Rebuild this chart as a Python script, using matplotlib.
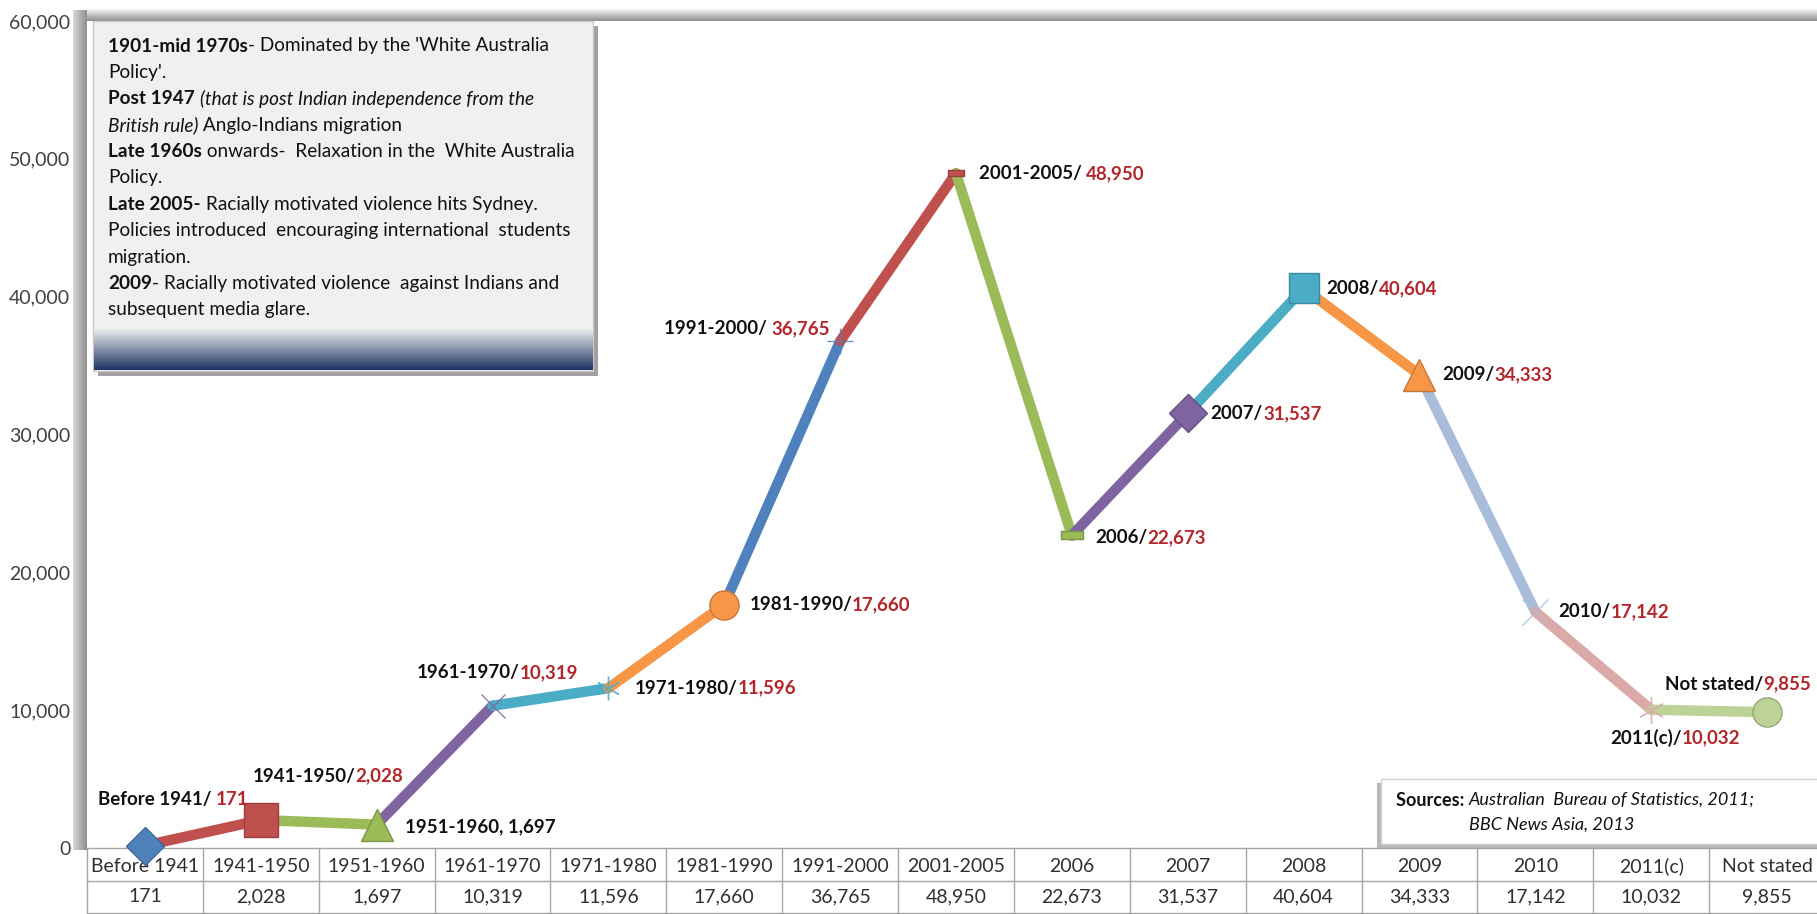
import matplotlib
matplotlib.use('Agg')
import matplotlib.pyplot as plt
import numpy as np
from matplotlib.patches import Rectangle
from matplotlib.path import Path
import matplotlib.transforms as mtransforms

# ---------------- data ----------------
categories = ['Before 1941', '1941-1950', '1951-1960', '1961-1970', '1971-1980',
              '1981-1990', '1991-2000', '2001-2005', '2006', '2007', '2008',
              '2009', '2010', '2011(c)', 'Not stated']
values = [171, 2028, 1697, 10319, 11596, 17660, 36765, 48950, 22673, 31537,
          40604, 34333, 17142, 10032, 9855]
value_labels = ['171', '2,028', '1,697', '10,319', '11,596', '17,660', '36,765',
                '48,950', '22,673', '31,537', '40,604', '34,333', '17,142',
                '10,032', '9,855']
label_black = ['Before 1941/ ', '1941-1950/', '1951-1960, 1,697', '1961-1970/',
               '1971-1980/', '1981-1990/', '1991-2000/ ', '2001-2005/ ', '2006/',
               '2007/', '2008/', '2009/', '2010/', '2011(c)/', 'Not stated/']
label_red = ['171', '2,028', '', '10,319', '11,596', '17,660', '36,765', '48,950',
             '22,673', '31,537', '40,604', '34,333', '17,142', '10,032', '9,855']
yticks = [0, 10000, 20000, 30000, 40000, 50000, 60000]
ytick_labels = ['0', '10,000', '20,000', '30,000', '40,000', '50,000', '60,000']

point_colors = ['#4F81BD', '#C0504D', '#9BBB59', '#8064A2', '#4BACC6', '#F79646',
                '#4F81BD', '#C0504D', '#9BBB59', '#8064A2', '#4BACC6', '#F79646',
                '#A9BCDA', '#DBA9A8', '#BDD296']

note_lines = [
    [('1901-mid 1970s', 'b'), ("- Dominated by the 'White Australia", '')],
    [("Policy'.", '')],
    [('Post 1947', 'b'), (' ', ''), ('(that is post Indian independence from the', 'i')],
    [('British rule)', 'i'), (' Anglo-Indians migration', '')],
    [('Late 1960s', 'b'), (' onwards-  Relaxation in the  White Australia', '')],
    [('Policy.', '')],
    [('Late 2005-', 'b'), (' Racially motivated violence hits Sydney.', '')],
    [('Policies introduced  encouraging international  students', '')],
    [('migration.', '')],
    [('2009', 'b'), ('- Racially motivated violence  against Indians and', '')],
    [('subsequent media glare.', '')],
]

# ---------------- layout ----------------
W, H = 1817, 914
FONT = ['Lato', 'DejaVu Sans']
NARROW = ['Liberation Sans Narrow', 'Lato', 'DejaVu Sans']
RED = '#B3262B'

fig = plt.figure(figsize=(W / 100, H / 100), dpi=100)
fig.patch.set_facecolor('white')
renderer = fig.canvas.get_renderer()


def fx(x):
    return x / W


def fy(y):
    return 1 - y / H


def gradient_axes(x0, y0, x1, y1, c0, c1, vertical=True, z=0):
    a = fig.add_axes([fx(x0), fy(y1), (x1 - x0) / W, (y1 - y0) / H], zorder=z)
    c0 = np.array(matplotlib.colors.to_rgb(c0))
    c1 = np.array(matplotlib.colors.to_rgb(c1))
    t = np.linspace(0, 1, 64)
    g = c0[None, :] * (1 - t[:, None]) + c1[None, :] * t[:, None]
    if vertical:
        img = g[:, None, :]
    else:
        img = g[None, :, :]
    a.imshow(img, aspect='auto', interpolation='bilinear')
    a.axis('off')
    return a


# plot-area shadow bands
gradient_axes(87, 8, W, 21, '#FFFFFF', '#8E8E8E', vertical=True, z=0)
gradient_axes(73, 10, 87, 850, '#D8D8D8', '#8E8E8E', vertical=False, z=0)

ax = fig.add_axes([fx(87), fy(848), (1825 - 87) / W, (848 - 21) / H], zorder=2)
ax.set_facecolor('none')
ax.set_xlim(-0.5, len(categories) - 0.5)
ax.set_ylim(0, 60000)
for s in ax.spines.values():
    s.set_visible(False)
ax.set_xticks([])
ax.set_yticks(yticks)
ax.set_yticklabels(ytick_labels, fontsize=14, color='#404040', family=FONT)
ax.tick_params(axis='y', length=0, pad=12)

x = np.arange(len(categories))

# coloured segments
for i in range(1, len(values)):
    ax.plot([x[i - 1], x[i]], [values[i - 1], values[i]], color=point_colors[i],
            lw=7.5, solid_capstyle='round', zorder=3)

dash_short = Path([(-1, -0.35), (1, -0.35), (1, 0.35), (-1, 0.35), (-1, -0.35)],
                  [1, 2, 2, 2, 79])
asterisk = (6, 2, 0)
markers = ['D', 's', '^', 'x', asterisk, 'o', '+', dash_short, dash_short,
           'D', 's', '^', 'x', asterisk, 'o']
msizes = [19, 24, 23, 17, 17, 21, 19, 11, 16, 19, 22, 23, 19, 19, 21]
for i in range(len(values)):
    m = markers[i]
    c = point_colors[i]
    thin = m in ('x', '+', asterisk)
    ec = '#A0A0A0' if thin else matplotlib.colors.to_hex(np.array(matplotlib.colors.to_rgb(c)) * 0.8)
    ax.plot(x[i], values[i], marker=m, ms=msizes[i], color=c,
            markeredgecolor=ec if not thin else c, markeredgewidth=1.0,
            linestyle='none', zorder=4, clip_on=False, alpha=0.85 if thin else 1.0)

# ---------------- data table under the axis ----------------
trans = mtransforms.blended_transform_factory(ax.transData, ax.transAxes)
ah = 848 - 21


def ay(ypx):
    return (848 - ypx) / ah


line_kw = dict(color='#A6A6A6', lw=1.0, transform=trans, clip_on=False, zorder=1)
ax.plot([-0.5, len(categories) - 0.5], [ay(848), ay(848)], **line_kw)
ax.plot([-0.5, len(categories) - 0.5], [ay(881), ay(881)], **line_kw)
ax.plot([-0.5, len(categories) - 0.5], [ay(913), ay(913)], **line_kw)
for i in range(len(categories) + 1):
    ax.plot([i - 0.5, i - 0.5], [ay(848), ay(914)], **line_kw)
for i, (c, v) in enumerate(zip(categories, value_labels)):
    ax.text(i, ay(866), c, transform=trans, ha='center', va='center',
            fontsize=14, color='#303030', family=NARROW, clip_on=False)
    ax.text(i, ay(897), v, transform=trans, ha='center', va='center',
            fontsize=14, color='#303030', family=NARROW, clip_on=False)


# ---------------- rich-text helper ----------------
def text_width(txt, **kw):
    if txt == '':
        return 0.0
    t1 = fig.text(0, 0, '|' + txt + '|', **kw)
    t2 = fig.text(0, 0, '||', **kw)
    w = t1.get_window_extent(renderer).width - t2.get_window_extent(renderer).width
    t1.remove()
    t2.remove()
    return w


def draw_runs(xpx, ypx_from_top, parts, align='left', z=6):
    widths = [text_width(t, **k) for t, k in parts]
    total = sum(widths)
    x0 = xpx - total if align == 'right' else xpx
    for (t, k), w in zip(parts, widths):
        if t:
            fig.text(fx(x0), fy(ypx_from_top), t, ha='left', va='center',
                     zorder=z, **k)
        x0 += w


# ---------------- point labels ----------------
offsets = [(-47, 46, 'left'), (-8, 44, 'left'), (28, -2, 'left'), (-76, 33, 'left'),
           (26, 0, 'left'), (25, 0, 'left'), (-10, 13, 'right'), (23, 0, 'left'),
           (23, -2, 'left'), (23, 0, 'left'), (23, 0, 'left'), (23, 0, 'left'),
           (23, 0, 'left'), (-41, -28, 'left'), (-102, 28, 'left')]
lab_kw = dict(fontsize=13.5, fontweight='bold', family=FONT)
for i in range(len(values)):
    px, py = ax.transData.transform((x[i], values[i]))
    py_top = H - py
    dx, dy, al = offsets[i]
    parts = [(label_black[i], dict(color='#111111', **lab_kw)),
             (label_red[i], dict(color=RED, **lab_kw))]
    draw_runs(px + dx, py_top - dy, parts, align=al)

# ---------------- annotation box (top-left) ----------------
fig.patches.append(Rectangle((fx(98), fy(376)), 500 / W, 350 / H, transform=fig.transFigure,
                             facecolor='#A0A0A0', edgecolor='none', zorder=4))
fig.patches.append(Rectangle((fx(93), fy(371)), 500 / W, 350 / H, transform=fig.transFigure,
                             facecolor='#F0F0F0', edgecolor='#C8C8C8', lw=1, zorder=5))
gradient_axes(94, 328, 592, 370, '#F0F0F0', '#1F3466', vertical=True, z=5.5)

note_size = 13.7
for li, line in enumerate(note_lines):
    parts = []
    for t, st in line:
        parts.append((t, dict(fontsize=note_size, color='#111111', family=FONT,
                               fontweight='bold' if 'b' in st else 'normal',
                               fontstyle='italic' if 'i' in st else 'normal')))
    draw_runs(108, 46 + li * 26.4, parts, z=7)

# ---------------- sources box ----------------
fig.patches.append(Rectangle((fx(1377), fy(848)), 460 / W, 65 / H, transform=fig.transFigure,
                             facecolor='#B8B8B8', edgecolor='none', zorder=4))
fig.patches.append(Rectangle((fx(1381), fy(844)), 460 / W, 65 / H, transform=fig.transFigure,
                             facecolor='white', edgecolor='#D0D0D0', lw=1, zorder=5))
src_size = 13
draw_runs(1396, 800, [('Sources: ', dict(fontsize=src_size, fontweight='bold', color='#111111', family=FONT)),
                      ('Australian  Bureau of Statistics, 2011;', dict(fontsize=src_size, fontstyle='italic', color='#111111', family=FONT))], z=7)
draw_runs(1469, 825, [('BBC News Asia, 2013', dict(fontsize=src_size, fontstyle='italic', color='#111111', family=FONT))], z=7)

fig.savefig('out.png', dpi=100)
